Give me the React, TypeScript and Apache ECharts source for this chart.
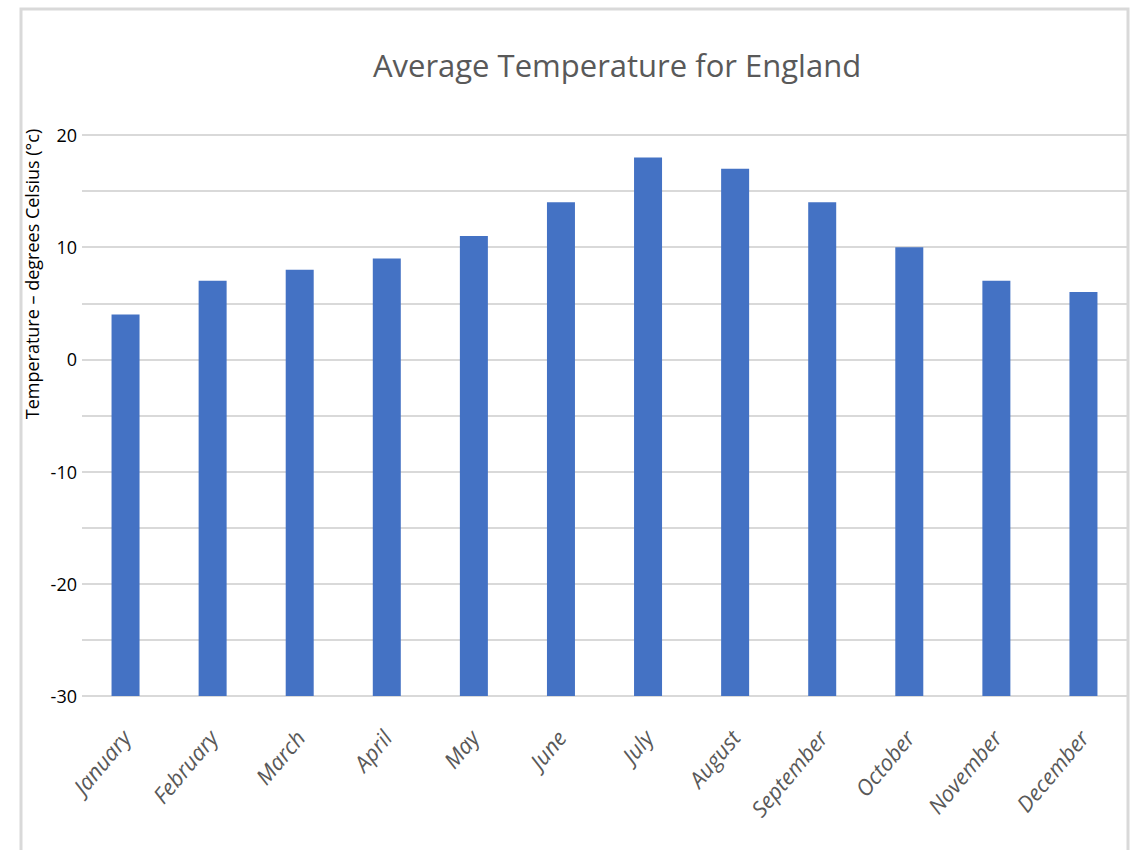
import React, { useEffect, useRef } from "react";
import * as echarts from "echarts";

const months = ["January","February","March","April","May","June","July","August","September","October","November","December"];
const temperatures = [4, 7, 8, 9, 11, 14, 18, 17, 14, 10, 7, 6];
const Y_MIN = -30;
const Y_MAX = 20;
const Y_STEP = 5;
const titleText = "Average Temperature for England";
const yAxisTitle = "Temperature \u2013 degrees Celsius (\u00b0c)";

export default function App() {
  const ref = useRef<HTMLDivElement>(null);
  useEffect(() => {
    if (!ref.current) return;
    const chart = echarts.init(ref.current, null, { renderer: "svg" });
    chart.setOption({
      animation: false,
      backgroundColor: "#ffffff",
      title: {
        text: titleText,
        left: 612,
        top: 44,
        textAlign: "center",
        textStyle: { fontFamily: "Open Sans", fontSize: 31, fontWeight: "normal", color: "#595959" },
      },
      graphic: [
        {
          type: "rect",
          shape: { x: 21, y: 9, width: 1107, height: 860 },
          style: { fill: "none", stroke: "#d9d9d9", lineWidth: 3 },
          silent: true,
        },
        {
          type: "text",
          x: 32,
          y: 274,
          rotation: Math.PI / 2,
          style: {
            text: yAxisTitle,
            fontFamily: "Open Sans",
            fontSize: 18,
            fill: "#000000",
            align: "center",
            verticalAlign: "middle",
          },
        },
      ],
      grid: { left: 82, right: 3, top: 135, bottom: 154, containLabel: false },
      xAxis: {
        type: "category",
        data: months,
        axisLine: { show: false },
        axisTick: { show: false },
        axisLabel: {
          rotate: 50,
          margin: 37,
          interval: 0,
          fontFamily: "Open Sans",
          fontStyle: "italic",
          fontSize: 22,
          color: "#595959",
        },
      },
      yAxis: {
        type: "value",
        min: Y_MIN,
        max: Y_MAX,
        interval: Y_STEP,
        startValue: Y_MIN,
        axisLine: { show: false },
        axisTick: { show: false },
        axisLabel: {
          formatter: (v: number) => (v % 10 === 0 ? String(v) : ""),
          fontFamily: "Open Sans",
          fontSize: 18,
          color: "#000000",
          margin: 5,
        },
        splitLine: { lineStyle: { color: "#d9d9d9", width: 2 } },
      },
      series: [
        {
          type: "bar",
          data: temperatures,
          barWidth: 28,
          itemStyle: { color: "#4472C4" },
        },
      ],
    });
    return () => chart.dispose();
  }, []);
  return <div ref={ref} style={{ position: "absolute", left: 0, top: 0, width: 1130, height: 850 }} />;
}
